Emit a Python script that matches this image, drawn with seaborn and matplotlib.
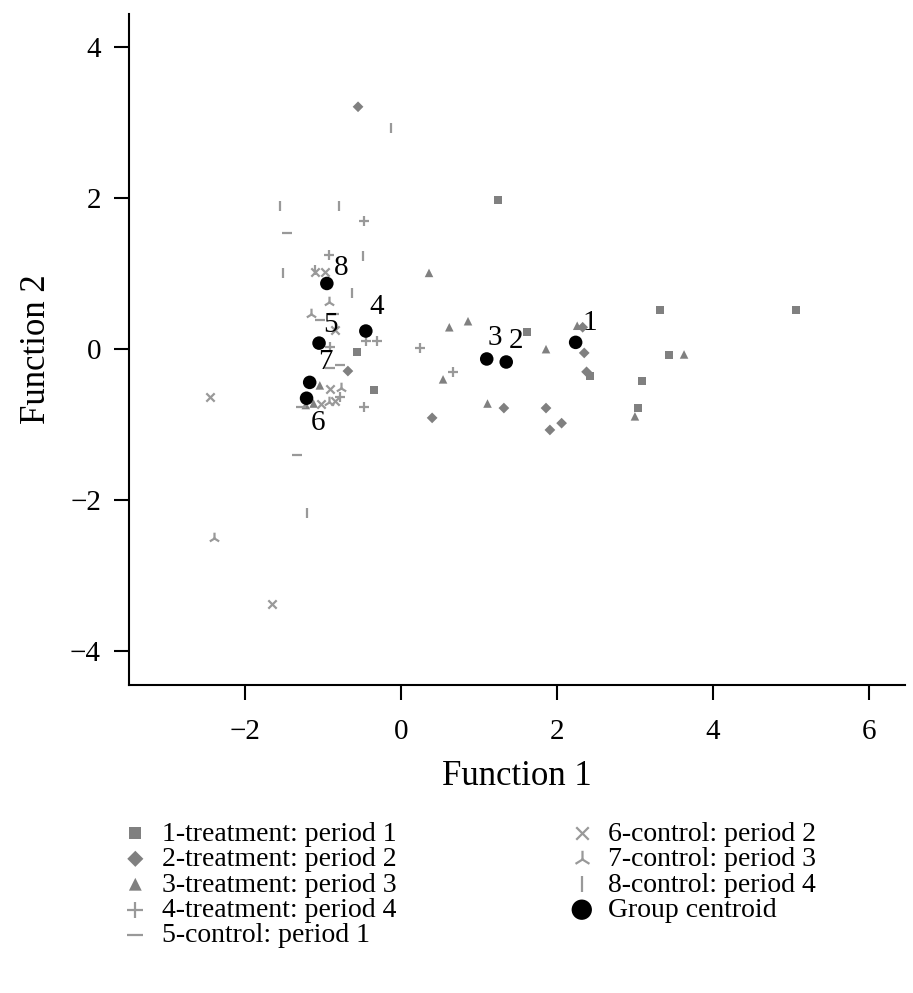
import numpy as np
import pandas as pd
import matplotlib
matplotlib.use("Agg")
import matplotlib.pyplot as plt
import seaborn as sns

# group scores
x1 = [1.24, 1.62, 3.32, 5.06, 3.44, 3.09, 3.04, 2.42, -0.56, -0.35]
y1 = [1.97, 0.23, 0.52, 0.52, -0.08, -0.42, -0.78, -0.36, -0.04, -0.54]
x2 = [-0.55, -0.68, 0.40, 1.32, 1.86, 1.91, 2.06, 2.35, 2.38, 2.33]
y2 = [3.21, -0.29, -0.91, -0.78, -0.78, -1.07, -0.98, -0.05, -0.30, 0.29]
x3 = [0.36, 0.62, 0.86, 0.54, 1.11, 1.86, 2.26, 3.63, 3.00, -1.04, -1.22, -1.12]
y3 = [1.01, 0.29, 0.37, -0.40, -0.72, 0.00, 0.31, -0.07, -0.89, -0.48, -0.74, -0.72]
x4 = [-0.47, -0.92, -0.45, -0.31, 0.24, -0.78, -0.47, 0.67, -0.91]
y4 = [1.70, 1.25, 0.11, 0.11, 0.01, -0.64, -0.76, -0.30, 0.03]
x5 = [-1.46, -0.86, -1.04, -0.78, -0.91, -1.33, -1.28]
y5 = [1.54, 0.46, 0.38, -0.21, -0.25, -1.40, -0.76]
x6 = [-2.45, -1.65, -1.10, -0.97, -0.85, -0.91, -1.02, -0.85]
y6 = [-0.63, -3.38, 1.02, 1.02, 0.26, -0.53, -0.72, -0.68]
x7 = [-2.40, -0.92, -1.15, -0.77, -0.92]
y7 = [-2.50, 0.62, 0.46, -0.52, -0.70]
x8 = [-0.13, -1.55, -0.79, -0.49, -1.51, -0.63, -1.21, -1.10]
y8 = [2.93, 1.89, 1.89, 1.23, 1.01, 0.75, -2.17, 1.05]

centroid_x = [2.24, 1.35, 1.10, -0.45, -1.05, -1.21, -1.17, -0.95]
centroid_y = [0.09, -0.17, -0.13, 0.24, 0.08, -0.65, -0.44, 0.87]
centroid_labels = ["1", "2", "3", "4", "5", "6", "7", "8"]

group_labels = [
    "1-treatment: period 1",
    "2-treatment: period 2",
    "3-treatment: period 3",
    "4-treatment: period 4",
    "5-control: period 1",
    "6-control: period 2",
    "7-control: period 3",
    "8-control: period 4",
]
xs = [x1, x2, x3, x4, x5, x6, x7, x8]
ys = [y1, y2, y3, y4, y5, y6, y7, y8]

# marker look per group
markers = ["s", "D", "^", "+", "_", "x", "2", "|"]
sizes = [32, 30, 38, 60, 60, 36, 70, 60]
colors = ["#808080", "#808080", "#808080", "#999999", "#999999", "#999999", "#999999", "#999999"]
# label offsets (points) for centroid numbers
label_dx = [10, 7, 6, 8, 8, 8, 11, 10]
label_dy = [14, 15, 15, 17, 13, -18, 15, 11]

sns.set_theme(style="white")
plt.rcParams["font.family"] = ["Liberation Serif", "DejaVu Serif"]
plt.rcParams.update({"text.color": "black", "axes.labelcolor": "black",
                     "xtick.color": "black", "ytick.color": "black"})

fig = plt.figure(figsize=(9.13, 9.93), dpi=100)
ax = fig.add_axes([0.141, 0.310, 0.850, 0.676])

for i in range(8):
    df = pd.DataFrame({"f1": xs[i], "f2": ys[i]})
    filled = markers[i] in ("s", "D", "^")
    kw = dict(edgecolor="none") if filled else dict(linewidths=1.6)
    sns.scatterplot(data=df, x="f1", y="f2", marker=markers[i], s=sizes[i],
                    color=colors[i], ax=ax, label=group_labels[i], legend=False,
                    zorder=2, **kw)

cdf = pd.DataFrame({"f1": centroid_x, "f2": centroid_y})
sns.scatterplot(data=cdf, x="f1", y="f2", marker="o", s=95, color="black",
                edgecolor="none", ax=ax, label="Group centroid", legend=False, zorder=3)

for lx, ly, t, dx, dy in zip(centroid_x, centroid_y, centroid_labels, label_dx, label_dy):
    ax.annotate(t, (lx, ly), xytext=(dx, dy), textcoords="offset points",
                ha="center", va="center", fontsize=21, color="black")

ax.set_xlim(-3.49, 6.46)
ax.set_ylim(-4.45, 4.44)
ax.set_xticks([-2, 0, 2, 4, 6])
ax.set_yticks([-4, -2, 0, 2, 4])
ax.set_xlabel("Function 1", fontsize=25, labelpad=11)
ax.set_ylabel("Function 2", fontsize=25, labelpad=12)
ax.tick_params(axis="both", direction="out", length=11, width=1.5, labelsize=21,
               color="black", bottom=True, left=True)
ax.tick_params(axis="x", pad=13)
ax.tick_params(axis="y", pad=9)
for side in ["top", "right"]:
    ax.spines[side].set_visible(False)
for side in ["left", "bottom"]:
    ax.spines[side].set_color("black")
    ax.spines[side].set_linewidth(1.5)
ax.grid(False)

h, l = ax.get_legend_handles_labels()
leg_kw = dict(loc="upper left", frameon=False, fontsize=20, labelspacing=0.0,
              handletextpad=0.45, handlelength=1.0, markerscale=1.5, borderpad=0,
              borderaxespad=0)
fig.legend(h[:5], l[:5], bbox_to_anchor=(0.133, 0.173), **leg_kw)
fig.legend(h[5:], l[5:], bbox_to_anchor=(0.622, 0.173), **leg_kw)

fig.savefig("out.png", dpi=100)
